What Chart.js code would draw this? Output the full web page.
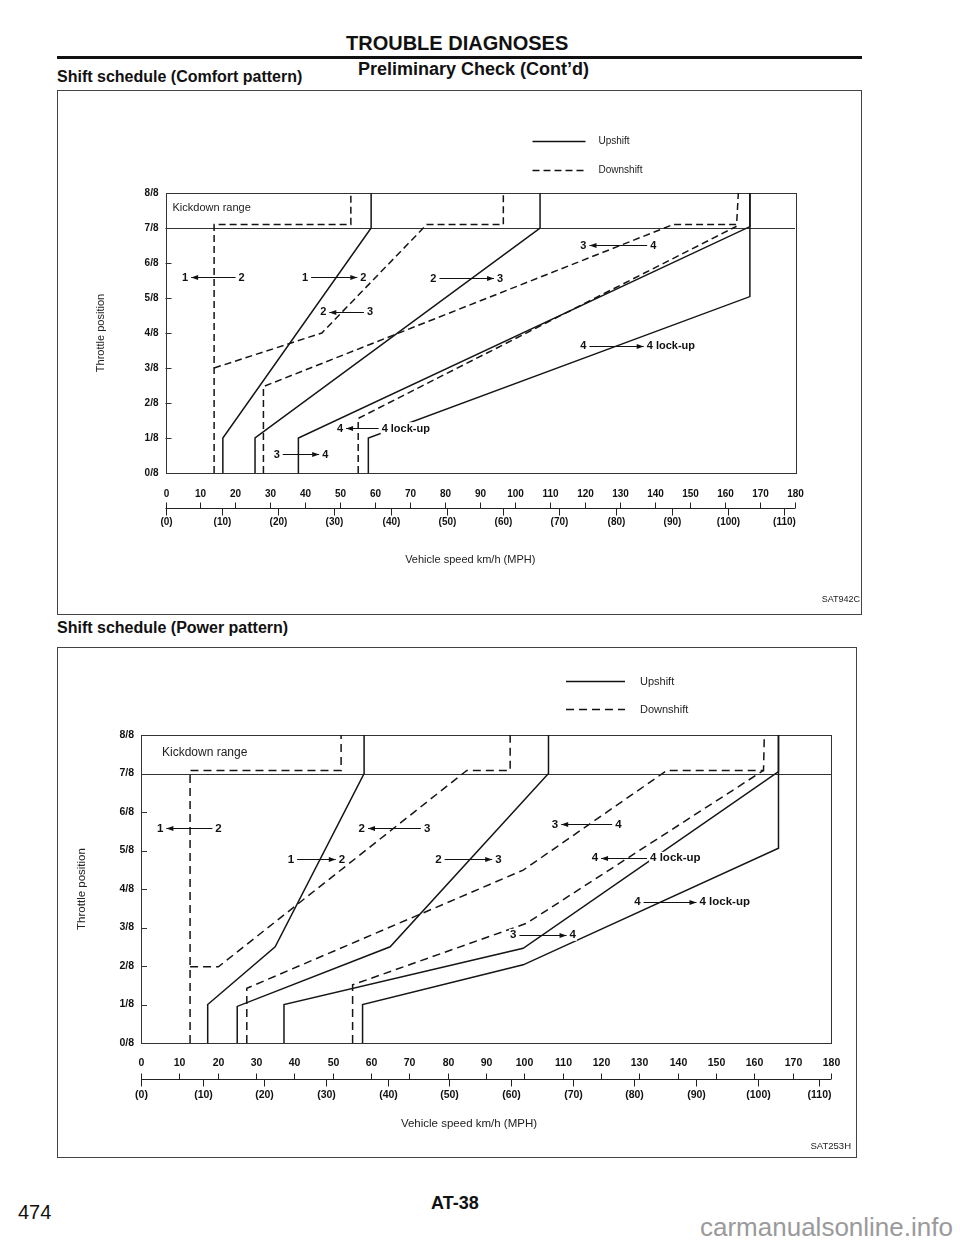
<!DOCTYPE html>
<html lang="en">
<head>
<meta charset="UTF-8">
<title>AT-38 Shift schedule</title>
<script src="https://cdn.jsdelivr.net/npm/chart.js@4.4.4/dist/chart.umd.min.js"></script>
</head>
<body style="margin:0; background:#fff; font-family:'Liberation Sans', Arial, Helvetica, sans-serif; color:#111;">
<div style="position:relative; width:960px; height:1242px; overflow:hidden;">
    <div style="position:absolute; left:346px; top:32px; font-size:20px; font-weight:bold; line-height:22px;">TROUBLE DIAGNOSES</div>
    <div style="position:absolute; left:57px; top:56px; width:805px; height:3px; background:#111;"></div>
    <div style="position:absolute; left:358px; top:59px; font-size:18px; font-weight:bold; line-height:20px;">Preliminary Check (Cont’d)</div>
    <div style="position:absolute; left:57px; top:68px; font-size:16px; font-weight:bold; line-height:18px;">Shift schedule (Comfort pattern)</div>

    <div style="position:absolute; left:57px; top:90px; width:803px; height:523px; border:1px solid #444;"></div>
    <canvas id="comfortChart" width="805" height="521" style="position:absolute; left:57px; top:93px;"></canvas>

    <div style="position:absolute; left:57px; top:619px; font-size:16px; font-weight:bold; line-height:18px;">Shift schedule (Power pattern)</div>

    <div style="position:absolute; left:57px; top:647px; width:798px; height:509px; border:1px solid #444;"></div>
    <canvas id="powerChart" width="798" height="510" style="position:absolute; left:57px; top:647px;"></canvas>

    <div style="position:absolute; left:18px; top:1201px; font-size:20px; line-height:22px; font-family:'Liberation Sans Narrow', 'Liberation Sans', Arial, sans-serif;">474</div>
    <div style="position:absolute; left:431px; top:1193px; font-size:18px; font-weight:bold; line-height:20px;">AT-38</div>
    <div style="position:absolute; left:700px; top:1212px; font-size:26px; line-height:30px; color:#9a9a9a;">carmanualsonline.info</div>
</div>

<script>
    const FONT = '"Liberation Sans", Arial, Helvetica, sans-serif';

    // axes
    const throttleLabels = ['0/8', '1/8', '2/8', '3/8', '4/8', '5/8', '6/8', '7/8', '8/8'];
    const speedTicks = [0, 10, 20, 30, 40, 50, 60, 70, 80, 90, 100, 110, 120, 130, 140, 150, 160, 170, 180];
    const mphTicks = [0, 10, 20, 30, 40, 50, 60, 70, 80, 90, 100, 110];
    const KMH_PER_MPH = 1.609;
    const legendLabels = ['Upshift', 'Downshift'];

    // Comfort pattern lines, [km/h, throttle in 1/8]
    const comfortUp12 = [[16.4, 0], [16.4, 1], [58.8, 7], [58.8, 8]];
    const comfortUp23 = [[25.6, 0], [25.6, 1], [107.1, 7], [107.1, 8]];
    const comfortUp34 = [[38.0, 0], [38.0, 1], [167.1, 7.04], [167.1, 8]];
    const comfortLockOn = [[58.0, 0], [58.0, 1], [167.1, 5.04], [167.1, 8]];
    const comfortDown12 = [[13.9, 0], [13.9, 7.1], [53.0, 7.1], [53.0, 8]];
    const comfortDown23 = [[13.9, 3.0], [44.7, 4.0], [74.7, 7.1], [96.6, 7.1], [96.6, 8]];
    const comfortDown34 = [[28.0, 0], [28.0, 2.47], [145.2, 7.1], [163.3, 7.1], [163.8, 8]];
    const comfortLockOff = [[55.1, 0], [55.1, 1.56], [163.3, 7.05]];

    // Power pattern lines, [km/h, throttle in 1/8]
    const powerUp12 = [[17.4, 0], [17.4, 1], [35.0, 2.5], [58.2, 7], [58.2, 8]];
    const powerUp23 = [[25.1, 0], [25.1, 0.95], [65.0, 2.5], [106.3, 7], [106.3, 8]];
    const powerUp34 = [[37.3, 0], [37.3, 1], [99.7, 2.46], [166.3, 7.05], [166.3, 8]];
    const powerLockOn = [[57.8, 0], [57.8, 1], [99.7, 2.03], [166.3, 5.06], [166.3, 8]];
    const powerDown12 = [[12.8, 0], [12.8, 7.08], [52.2, 7.08], [52.2, 8]];
    const powerDown23 = [[12.8, 1.98], [20.2, 1.98], [85.0, 7.08], [96.3, 7.08], [96.3, 8]];
    const powerDown34 = [[27.6, 0], [27.6, 1.42], [99.7, 4.49], [137.2, 7.08], [162.4, 7.08], [162.6, 8]];
    const powerLockOff = [[55.2, 0], [55.2, 1.51], [100.6, 3.11], [162.4, 7.08]];

    // shift labels: a = centre of first gear, b = start of second text, y = throttle
    const comfortLabels = [
        { from: '1', to: '2', a: 5.6, b: 20.9, y: 5.6, dir: -1 },
        { from: '1', to: '2', a: 39.9, b: 55.7, y: 5.6, dir: 1 },
        { from: '2', to: '3', a: 76.6, b: 94.8, y: 5.57, dir: 1 },
        { from: '2', to: '3', a: 45.1, b: 57.6, y: 4.61, dir: -1 },
        { from: '3', to: '4', a: 119.5, b: 138.6, y: 6.51, dir: -1 },
        { from: '4', to: '4 lock-up', a: 119.5, b: 137.6, y: 3.63, dir: 1 },
        { from: '4', to: '4 lock-up', a: 49.9, b: 61.8, y: 1.28, dir: -1 },
        { from: '3', to: '4', a: 31.8, b: 44.8, y: 0.54, dir: 1 }
    ];
    const powerLabels = [
        { from: '1', to: '2', a: 5.0, b: 19.4, y: 5.58, dir: -1 },
        { from: '2', to: '3', a: 57.6, b: 73.8, y: 5.58, dir: -1 },
        { from: '1', to: '2', a: 39.1, b: 51.6, y: 4.77, dir: 1 },
        { from: '2', to: '3', a: 77.6, b: 92.4, y: 4.77, dir: 1 },
        { from: '3', to: '4', a: 108.0, b: 123.7, y: 5.69, dir: -1 },
        { from: '4', to: '4 lock-up', a: 118.4, b: 132.8, y: 4.81, dir: -1 },
        { from: '4', to: '4 lock-up', a: 129.5, b: 145.7, y: 3.67, dir: 1 },
        { from: '3', to: '4', a: 97.1, b: 111.8, y: 2.81, dir: 1 }
    ];

    function arrowLine(ctx, x1, x2, y, dir) {
        ctx.beginPath();
        ctx.moveTo(x1, y);
        ctx.lineTo(x2, y);
        ctx.stroke();
        const tip = dir > 0 ? x2 : x1;
        ctx.beginPath();
        ctx.moveTo(tip, y);
        ctx.lineTo(tip - dir * 7, y - 2.5);
        ctx.lineTo(tip - dir * 7, y + 2.5);
        ctx.closePath();
        ctx.fill();
    }

    // draws the frame, kickdown band, shift labels, speed ruler and legend
    function sheet(c) {
        return {
            id: 'sheet',
            beforeDatasetsDraw(chart) {
                const { ctx, chartArea: a, scales: { y } } = chart;
                ctx.save();
                ctx.strokeStyle = '#333';
                ctx.lineWidth = 1;
                ctx.strokeRect(Math.round(a.left) + 0.5, Math.round(a.top) + 0.5, Math.round(a.width), Math.round(a.height));
                const yk = Math.round(y.getPixelForValue(7)) + 0.5;
                ctx.beginPath();
                ctx.moveTo(a.left, yk);
                ctx.lineTo(a.right, yk);
                ctx.stroke();
                for (let v = 1; v <= 6; v++) {
                    const yy = Math.round(y.getPixelForValue(v)) + 0.5;
                    ctx.beginPath();
                    ctx.moveTo(a.left, yy);
                    ctx.lineTo(a.left + 6, yy);
                    ctx.stroke();
                }
                ctx.restore();
            },
            afterDatasetsDraw(chart) {
                const { ctx, chartArea: a, scales: { x, y } } = chart;
                ctx.save();
                ctx.textBaseline = 'middle';

                // kickdown range
                ctx.font = c.kickSize + 'px ' + FONT;
                ctx.fillStyle = '#222';
                ctx.textAlign = 'left';
                ctx.fillText('Kickdown range', a.left + c.kick[0], a.top + c.kick[1]);

                ctx.font = 'bold ' + c.labelSize + 'px ' + FONT;
                ctx.strokeStyle = '#111';
                ctx.lineWidth = 1;
                c.labels.forEach(l => {
                    const xa = x.getPixelForValue(l.a);
                    const xb = x.getPixelForValue(l.b);
                    const yy = y.getPixelForValue(l.y);
                    const wa = ctx.measureText(l.from).width;
                    const wb = ctx.measureText(l.to).width;
                    ctx.fillStyle = '#fff';
                    ctx.fillRect(xa - wa / 2 - 1, yy - 6, wa + 2, 12);
                    ctx.fillRect(xb - 1, yy - 6, wb + 2, 12);
                    ctx.fillStyle = '#111';
                    ctx.textAlign = 'center';
                    ctx.fillText(l.from, xa, yy + 0.5);
                    ctx.textAlign = 'left';
                    ctx.fillText(l.to, xb, yy + 0.5);
                    arrowLine(ctx, xa + wa / 2 + 3, xb - 3, Math.round(yy) + 0.5, l.dir);
                });
                ctx.restore();
            },
            afterDraw(chart) {
                const { ctx, chartArea: a, scales: { x } } = chart;
                ctx.save();
                ctx.strokeStyle = '#222';
                ctx.fillStyle = '#111';
                ctx.lineWidth = 1;

                // speed ruler: km/h above, MPH below
                const ry = Math.round(a.bottom + c.ruler.gap) + 0.5;
                ctx.beginPath();
                ctx.moveTo(x.getPixelForValue(0), ry);
                ctx.lineTo(x.getPixelForValue(180), ry);
                ctx.stroke();
                ctx.font = 'bold ' + c.rulerSize + 'px ' + FONT;
                ctx.textAlign = 'center';
                ctx.textBaseline = 'middle';
                speedTicks.forEach(v => {
                    const px = Math.round(x.getPixelForValue(v)) + 0.5;
                    ctx.beginPath();
                    ctx.moveTo(px, ry - 6);
                    ctx.lineTo(px, ry);
                    ctx.stroke();
                    ctx.fillText(String(v), px, ry - c.ruler.up);
                });
                mphTicks.forEach(m => {
                    const px = Math.round(x.getPixelForValue(m * KMH_PER_MPH)) + 0.5;
                    ctx.beginPath();
                    ctx.moveTo(px, ry);
                    ctx.lineTo(px, ry + 7);
                    ctx.stroke();
                    ctx.fillText('(' + m + ')', px, ry + c.ruler.down);
                });

                ctx.font = c.titleSize + 'px ' + FONT;
                ctx.fillStyle = '#222';
                ctx.fillText('Vehicle speed km/h (MPH)', (a.left + a.right) / 2 + c.title[0], a.bottom + c.title[1]);

                // legend
                ctx.font = c.legendSize + 'px ' + FONT;
                ctx.textAlign = 'left';
                ctx.lineWidth = 1.4;
                ctx.strokeStyle = '#111';
                legendLabels.forEach((t, i) => {
                    const ly = Math.round(a.top + c.legend.rows[i]) + 0.5;
                    ctx.setLineDash(i === 1 ? c.dash : []);
                    ctx.beginPath();
                    ctx.moveTo(a.left + c.legend.x0, ly);
                    ctx.lineTo(a.left + c.legend.x1, ly);
                    ctx.stroke();
                    ctx.fillText(t, a.left + c.legend.text, ly);
                });
                ctx.setLineDash([]);

                // figure code
                ctx.font = c.codeSize + 'px ' + FONT;
                ctx.textAlign = 'right';
                ctx.fillText(c.code, a.right + c.codePos[0], a.bottom + c.codePos[1]);
                ctx.restore();
            }
        };
    }

    function shiftChart(id, c) {
        const datasets = c.series.map(s => ({
            label: s.label,
            data: s.points.map(p => ({ x: p[0], y: p[1] })),
            borderColor: '#151515',
            borderWidth: 1.5,
            borderDash: s.down ? c.dash : [],
            pointRadius: 0,
            tension: 0,
            fill: false,
            clip: false
        }));
        return new Chart(document.getElementById(id), {
            type: 'line',
            data: { datasets },
            options: {
                responsive: false,
                animation: false,
                layout: { padding: c.padding },
                plugins: { legend: { display: false }, tooltip: { enabled: false } },
                scales: {
                    x: { type: 'linear', min: 0, max: 180, display: false },
                    y: {
                        type: 'linear', min: 0, max: 8,
                        afterFit: scale => { scale.width = c.axisWidth; },
                        border: { display: false },
                        grid: { display: false, drawTicks: false },
                        ticks: {
                            stepSize: 1, padding: 7, color: '#111',
                            font: { family: FONT, size: c.tickSize, weight: 'bold' },
                            callback: v => throttleLabels[v]
                        },
                        title: {
                            display: true, text: 'Throttle position', color: '#222',
                            padding: { top: 4, bottom: 0 },
                            font: { family: FONT, size: c.titleSize }
                        }
                    }
                }
            },
            plugins: [sheet(c)]
        });
    }

    shiftChart('comfortChart', {
        series: [
            { label: '1-2 up', points: comfortUp12 },
            { label: '2-3 up', points: comfortUp23 },
            { label: '3-4 up', points: comfortUp34 },
            { label: '4 lock-up on', points: comfortLockOn },
            { label: '2-1 down', points: comfortDown12, down: true },
            { label: '3-2 down', points: comfortDown23, down: true },
            { label: '4-3 down', points: comfortDown34, down: true },
            { label: '4 lock-up off', points: comfortLockOff, down: true }
        ],
        labels: comfortLabels,
        padding: { left: 33, top: 100, right: 67, bottom: 141 },
        axisWidth: 75.5,
        dash: [7, 4],
        tickSize: 10, labelSize: 11, kickSize: 11, titleSize: 11, rulerSize: 10, legendSize: 10, codeSize: 9,
        kick: [7, 15],
        ruler: { gap: 35, up: 14, down: 14 },
        title: [-10, 87],
        legend: { rows: [-52, -23], x0: 367, x1: 420, text: 433 },
        code: 'SAT942C', codePos: [65, 127]
    });

    shiftChart('powerChart', {
        series: [
            { label: '1-2 up', points: powerUp12 },
            { label: '2-3 up', points: powerUp23 },
            { label: '3-4 up', points: powerUp34 },
            { label: '4 lock-up on', points: powerLockOn },
            { label: '2-1 down', points: powerDown12, down: true },
            { label: '3-2 down', points: powerDown23, down: true },
            { label: '4-3 down', points: powerDown34, down: true },
            { label: '4 lock-up off', points: powerLockOff, down: true }
        ],
        labels: powerLabels,
        padding: { left: 14, top: 88, right: 24, bottom: 114 },
        axisWidth: 70,
        dash: [8, 5],
        tickSize: 10.5, labelSize: 11.5, kickSize: 12, titleSize: 11.5, rulerSize: 10.5, legendSize: 11, codeSize: 9.5,
        kick: [21, 18],
        ruler: { gap: 36, up: 16, down: 16 },
        title: [-17, 81],
        legend: { rows: [-54, -26], x0: 425, x1: 484, text: 499 },
        code: 'SAT253H', codePos: [20, 103]
    });
</script>
</body>
</html>
